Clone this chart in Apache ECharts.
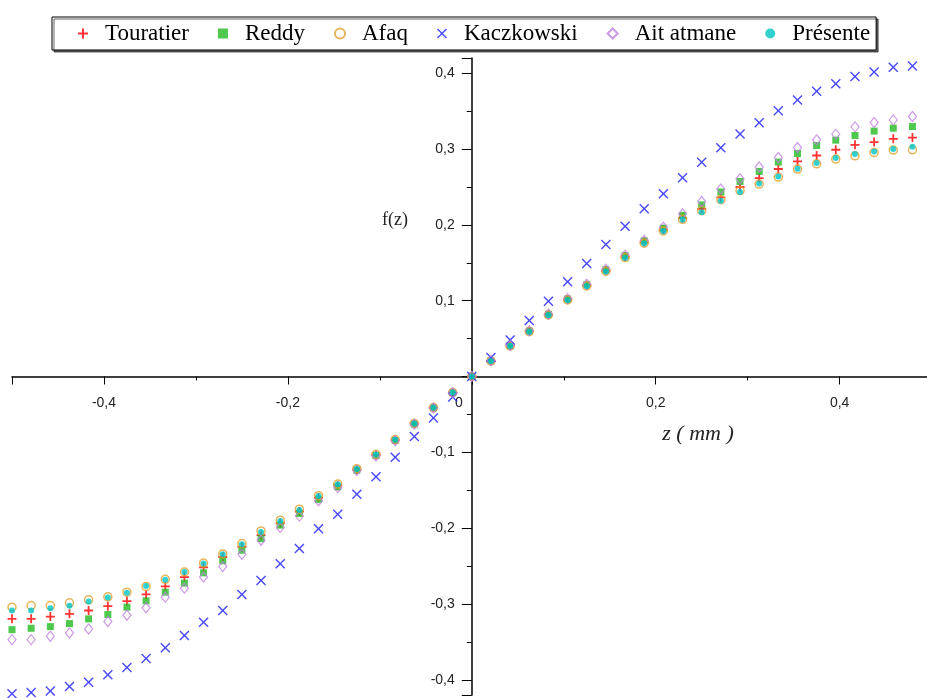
<!DOCTYPE html>
<html>
<head>
<meta charset="utf-8">
<title>f(z)</title>
<script src="https://cdn.jsdelivr.net/npm/echarts@6/dist/echarts.min.js"></script>
<style>
html, body { margin: 0; padding: 0; background: #fff; }
#chart { width: 927px; height: 698px; }
</style>
</head>
<body>
<div id="chart"></div>
<script>
// z (mm)
var z = [-0.5, -0.4792, -0.4583, -0.4375, -0.4167, -0.3958, -0.375, -0.3542, -0.3333, -0.3125, -0.2917, -0.2708,
  -0.25, -0.2292, -0.2083, -0.1875, -0.1667, -0.1458, -0.125, -0.1042, -0.0833, -0.0625, -0.0417, -0.0208,
  0, 0.0208, 0.0417, 0.0625, 0.0833, 0.1042, 0.125, 0.1458, 0.1667, 0.1875, 0.2083, 0.2292,
  0.25, 0.2708, 0.2917, 0.3125, 0.3333, 0.3542, 0.375, 0.3958, 0.4167, 0.4375, 0.4583, 0.4792];

var touratier = [-0.3196, -0.3196, -0.3166, -0.313, -0.3086, -0.3029, -0.2962, -0.2874, -0.2768, -0.2645, -0.2517, -0.238,
  -0.2248, -0.2093, -0.1935, -0.178, -0.160, -0.144, -0.1228, -0.1035, -0.0838, -0.0623, -0.0412, -0.0213,
  0, 0.0206, 0.0404, 0.0596, 0.0815, 0.1015, 0.1202, 0.1397, 0.158, 0.1772, 0.1937, 0.209,
  0.2211, 0.2362, 0.2499, 0.2617, 0.2736, 0.2836, 0.2914, 0.299, 0.3055, 0.3091, 0.3134, 0.3151];

var reddy = [-0.3338, -0.332, -0.3298, -0.3258, -0.3196, -0.3139, -0.3042, -0.2958, -0.2844, -0.2725, -0.2589, -0.243,
  -0.2291, -0.2137, -0.196, -0.1806, -0.162, -0.1455, -0.1236, -0.1042, -0.0843, -0.0626, -0.0414, -0.0214,
  0, 0.0207, 0.0406, 0.06, 0.082, 0.1022, 0.121, 0.1408, 0.1593, 0.1788, 0.1956, 0.2125,
  0.2263, 0.2433, 0.2572, 0.2704, 0.2828, 0.2941, 0.3046, 0.3117, 0.3178, 0.3236, 0.3275, 0.3296];

var afaq = [-0.3042, -0.302, -0.302, -0.2985, -0.2945, -0.2905, -0.2844, -0.2768, -0.2675, -0.2578, -0.246, -0.234,
  -0.2203, -0.2036, -0.1894, -0.175, -0.1572, -0.1418, -0.1215, -0.1026, -0.0832, -0.0619, -0.041, -0.0211,
  0, 0.0205, 0.0402, 0.0593, 0.0811, 0.101, 0.1195, 0.1389, 0.1569, 0.1758, 0.192, 0.2072,
  0.2188, 0.2332, 0.245, 0.2538, 0.263, 0.2736, 0.2805, 0.2867, 0.291, 0.2954, 0.2986, 0.2989];

var kaczkowski = [-0.4182, -0.4168, -0.4146, -0.4089, -0.4031, -0.3934, -0.3837, -0.3718, -0.3576, -0.3417, -0.3241, -0.3086,
  -0.2874, -0.2689, -0.2468, -0.2269, -0.2009, -0.1815, -0.1554, -0.1321, -0.1064, -0.0791, -0.0547, -0.0269,
  0, 0.0249, 0.048, 0.074, 0.0993, 0.1249, 0.149, 0.174, 0.198, 0.2213, 0.241, 0.262,
  0.2825, 0.3017, 0.3197, 0.3346, 0.3504, 0.3645, 0.3763, 0.3859, 0.3957, 0.4017, 0.4079, 0.4096];

var aitAtmane = [-0.347, -0.347, -0.3426, -0.3382, -0.3329, -0.3232, -0.3148, -0.305, -0.291, -0.2791, -0.2645, -0.2505,
  -0.2344, -0.2159, -0.199, -0.1841, -0.1638, -0.1466, -0.124, -0.1048, -0.0847, -0.0629, -0.0416, -0.0215,
  0, 0.0208, 0.0408, 0.0603, 0.0824, 0.1027, 0.1216, 0.1415, 0.1601, 0.1798, 0.1968, 0.2145,
  0.2309, 0.2472, 0.2608, 0.2762, 0.2888, 0.302, 0.3121, 0.3196, 0.3292, 0.3349, 0.3384, 0.3428];

var presente = [-0.3086, -0.3086, -0.3055, -0.3024, -0.2967, -0.2914, -0.2853, -0.2764, -0.268, -0.2578, -0.2465, -0.2345,
  -0.2212, -0.2049, -0.1907, -0.1762, -0.1576, -0.1422, -0.1219, -0.1029, -0.0834, -0.062, -0.041, -0.0212,
  0, 0.0204, 0.0401, 0.0591, 0.0809, 0.1007, 0.1191, 0.1384, 0.1564, 0.1753, 0.1914, 0.2068,
  0.2167, 0.2318, 0.2433, 0.2546, 0.2638, 0.2739, 0.2814, 0.288, 0.2933, 0.2967, 0.2999, 0.3029];

var names = ['Touratier', 'Reddy', 'Afaq', 'Kaczkowski', 'Ait atmane', 'Présente'];

var xMin = -0.5, xMax = 0.495;
var yMin = -0.42, yMax = 0.42;

function pairs(vals) {
  return z.map(function (x, i) { return [x, vals[i]]; });
}

// small marker shapes
var plusPath = 'path://M4,0H6V4H10V6H6V10H4V6H0V4H4Z';
var crossPath = 'path://M0,1L1,0L5,4L9,0L10,1L6,5L10,9L9,10L5,6L1,10L0,9L4,5Z';

function fmtX(v) {
  if (Math.abs(v) < 1e-9) return '{o|0}';
  if (Math.abs(v * 5 - Math.round(v * 5)) > 1e-6) return '';
  return (Math.round(v * 10) / 10).toString().replace('.', ',');
}
function fmtY(v) {
  if (Math.abs(v) < 1e-9) return '';
  if (Math.abs(v * 10 - Math.round(v * 10)) > 1e-6) return '';
  return (Math.round(v * 10) / 10).toString().replace('.', ',');
}

var myChart = echarts.init(document.getElementById('chart'));

var option = {
  animation: false,
  legend: {
    data: names,
    left: 52,
    top: 17,
    padding: [5, 6, 5, 26],
    itemGap: 29,
    itemWidth: 10,
    itemHeight: 10,
    backgroundColor: '#fff',
    borderColor: '#000',
    borderWidth: 1,
    shadowColor: 'rgba(0,0,0,0.6)',
    shadowOffsetX: 2,
    shadowOffsetY: 2,
    shadowBlur: 0,
    textStyle: {
      fontFamily: 'Liberation Serif',
      fontSize: 23,
      color: '#000',
      padding: [0, 0, 0, 12]
    }
  },
  grid: {
    left: 12,
    right: 0,
    top: 58,
    bottom: 3,
    containLabel: false,
    outerBoundsMode: 'none'
  },
  xAxis: {
    type: 'value',
    min: xMin,
    max: xMax,
    splitNumber: 5,
    axisLine: { onZero: false, lineStyle: { color: '#000', width: 1.5 } },
    axisTick: { show: true, length: 8, lineStyle: { color: '#000' } },
    minorTick: { show: true, splitNumber: 2, length: 4, lineStyle: { color: '#000' } },
    splitLine: { show: false },
    minorSplitLine: { show: false },
    axisLabel: {
      margin: 20,
      fontFamily: 'Liberation Sans',
      fontSize: 14,
      color: '#222',
      formatter: fmtX,
      rich: {
        o: { fontFamily: 'Liberation Sans', fontSize: 14, color: '#222', padding: [0, 26, 6, 0] }
      }
    }
  },
  yAxis: {
    type: 'value',
    min: yMin,
    max: yMax,
    splitNumber: 8,
    axisLine: { onZero: false, lineStyle: { color: '#000', width: 1.5 } },
    axisTick: { show: true, length: 10, lineStyle: { color: '#000' } },
    minorTick: { show: true, splitNumber: 2, length: 5, lineStyle: { color: '#000' } },
    splitLine: { show: false },
    minorSplitLine: { show: false },
    axisLabel: {
      margin: 17,
      fontFamily: 'Liberation Sans',
      fontSize: 14,
      color: '#222',
      formatter: fmtY
    }
  },
  graphic: [
    {
      type: 'text', x: 395, y: 220,
      style: { text: 'f(z)', font: '18px "Liberation Serif"', fill: '#222', align: 'center', verticalAlign: 'middle' }
    },
    {
      type: 'text', x: 698, y: 434,
      style: { text: 'z ( mm )', font: 'italic 22px "Liberation Serif"', fill: '#222', align: 'center', verticalAlign: 'middle' }
    }
  ],
  series: [
    {
      name: 'Touratier', type: 'scatter', data: pairs(touratier),
      symbol: plusPath, symbolSize: 9,
      itemStyle: { color: '#ff0000' }
    },
    {
      name: 'Reddy', type: 'scatter', data: pairs(reddy),
      symbol: 'rect', symbolSize: 7,
      itemStyle: { color: '#22bb22' }
    },
    {
      name: 'Afaq', type: 'scatter', data: pairs(afaq),
      symbol: 'circle', symbolSize: 8,
      itemStyle: { color: 'rgba(0,0,0,0)', borderColor: '#e0a030', borderWidth: 1.5 }
    },
    {
      name: 'Kaczkowski', type: 'scatter', data: pairs(kaczkowski),
      symbol: crossPath, symbolSize: 10,
      itemStyle: { color: '#1a1aff' }
    },
    {
      name: 'Ait atmane', type: 'scatter', data: pairs(aitAtmane),
      symbol: 'diamond', symbolSize: [8, 10],
      itemStyle: { color: 'rgba(0,0,0,0)', borderColor: '#c080e0', borderWidth: 1.2 }
    },
    {
      name: 'Présente', type: 'scatter', data: pairs(presente),
      symbol: 'circle', symbolSize: 6,
      itemStyle: { color: '#00c4c4' }
    }
  ]
};

myChart.setOption(option);

// move both axes (line, ticks and labels) onto the origin
var origin = myChart.convertToPixel({ xAxisIndex: 0, yAxisIndex: 0 }, [0, 0]);
var corner = myChart.convertToPixel({ xAxisIndex: 0, yAxisIndex: 0 }, [xMin, yMin]);
myChart.setOption({
  xAxis: { offset: origin[1] - corner[1] },
  yAxis: { offset: corner[0] - origin[0] }
});
</script>
</body>
</html>
